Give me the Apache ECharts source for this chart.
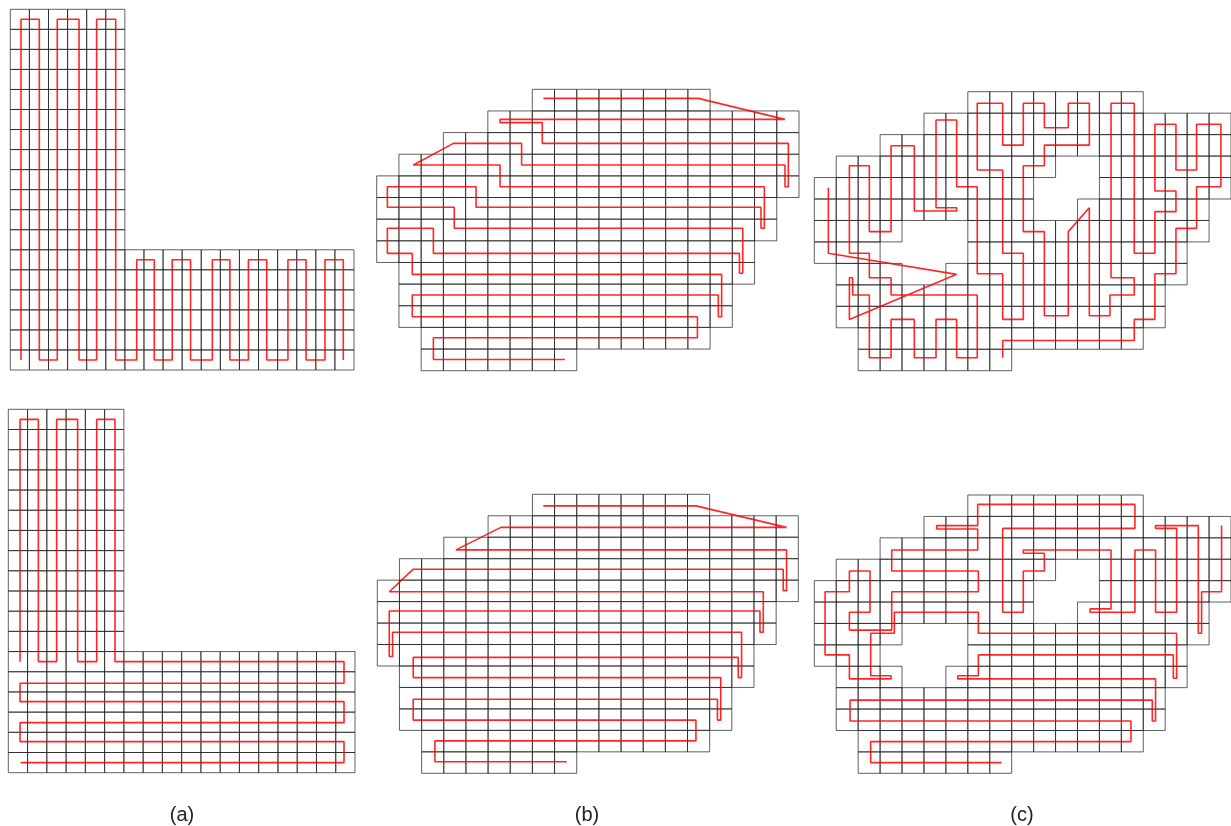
<!DOCTYPE html>
<html>
<head>
<meta charset="utf-8">
<script src="https://cdn.jsdelivr.net/npm/echarts@6/dist/echarts.min.js"></script>
<style>
  html, body { margin: 0; padding: 0; background: #fff; }
  #chart { width: 1231px; height: 826px; }
</style>
</head>
<body>
<div id="chart"></div>
<script>
// occupied cells per row: [firstCol, lastCol]
const lShapeRows = [
  [0, 5], [0, 5], [0, 5], [0, 5], [0, 5], [0, 5], [0, 5], [0, 5], [0, 5],
  [0, 5], [0, 5], [0, 5], [0, 17], [0, 17], [0, 17], [0, 17], [0, 17], [0, 17],
];
const blobRows = [
  [7, 14], [5, 18], [3, 18], [1, 18], [0, 18], [0, 17], [0, 17],
  [0, 16], [1, 16], [1, 15], [1, 15], [2, 14], [2, 8],
];
// obstacle cells in (c): [col, row]
const obstacleCells = [
  [4, 6], [5, 6], [6, 6], [3, 7], [4, 7], [5, 7], [6, 7], [4, 8], [5, 8],
  [11, 3], [12, 3], [10, 4], [11, 4], [12, 4], [10, 5], [11, 5],
];

// coverage paths, in cell units [col, row]
const pathA1 = [
  [0.56, 17.5], [0.56, 0.5], [1.52, 0.5], [1.52, 17.5], [2.46, 17.5], [2.46, 0.5],
  [3.6, 0.5], [3.6, 17.5], [4.52, 17.5], [4.52, 0.5], [5.52, 0.5], [5.52, 17.5],
  [6.62, 17.5], [6.62, 12.5], [7.54, 12.5], [7.54, 17.5], [8.48, 17.5], [8.48, 12.5],
  [9.44, 12.5], [9.44, 17.5], [10.58, 17.5], [10.58, 12.5], [11.5, 12.5], [11.5, 17.5],
  [12.47, 17.5], [12.47, 12.5], [13.43, 12.5], [13.43, 17.5], [14.54, 17.5], [14.54, 12.5],
  [15.49, 12.5], [15.49, 17.5], [16.48, 17.5], [16.48, 12.5], [17.44, 12.5], [17.44, 17.5],
];
const pathA2 = [
  [0.61, 12.5], [0.61, 0.5], [1.56, 0.5], [1.56, 12.5], [2.51, 12.5], [2.51, 0.5],
  [3.6, 0.5], [3.6, 12.5], [4.59, 12.5], [4.59, 0.5], [5.54, 0.5], [5.54, 12.5],
  [17.43, 12.5], [17.43, 13.57], [0.61, 13.57], [0.61, 14.48], [17.43, 14.48],
  [17.43, 15.52], [0.61, 15.52], [0.61, 16.46], [17.43, 16.46], [17.43, 17.5], [0.64, 17.5],
];
const pathB1 = [
  [7.5, 0.42], [14.47, 0.42], [18.37, 1.39], [5.55, 1.39], [5.55, 1.54], [7.45, 1.54],
  [7.45, 2.5], [18.52, 2.5], [18.52, 4.5], [18.37, 4.5], [18.37, 3.5], [6.52, 3.5],
  [6.52, 2.5], [3.45, 2.5], [1.65, 3.5], [5.55, 3.5], [5.55, 4.5], [17.44, 4.5],
  [17.44, 6.42], [17.29, 6.42], [17.29, 5.45], [4.47, 5.45], [4.47, 4.5], [0.48, 4.5],
  [0.48, 5.45], [3.49, 5.45], [3.49, 6.42], [16.47, 6.42], [16.47, 8.5], [16.32, 8.5],
  [16.32, 7.58], [2.55, 7.58], [2.55, 6.42], [0.48, 6.42], [0.48, 7.58], [1.6, 7.58],
  [1.6, 8.55], [15.52, 8.55], [15.52, 10.51], [15.37, 10.51], [15.37, 9.5], [1.6, 9.5],
  [1.6, 10.51], [14.43, 10.51], [14.43, 11.48], [2.55, 11.48], [2.55, 12.48], [8.47, 12.48],
];
const pathB2 = [
  [7.49, 0.54], [14.38, 0.54], [18.47, 1.54], [5.58, 1.54], [3.55, 2.59], [18.47, 2.59],
  [18.47, 4.49], [18.32, 4.49], [18.32, 3.49], [1.62, 3.49], [0.54, 4.54], [17.42, 4.54],
  [17.42, 6.43], [17.27, 6.43], [17.27, 5.44], [0.54, 5.44], [0.54, 7.56], [0.69, 7.56],
  [0.69, 6.43], [16.44, 6.43], [16.44, 8.54], [16.29, 8.54], [16.29, 7.6], [1.62, 7.6],
  [1.62, 8.54], [15.5, 8.54], [15.5, 10.52], [15.35, 10.52], [15.35, 9.55], [1.62, 9.55],
  [1.62, 10.52], [14.38, 10.52], [14.38, 11.49], [2.6, 11.49], [2.6, 12.46], [8.55, 12.46],
];
const pathC1 = [
  [0.64, 4.47], [0.64, 7.53], [6.49, 8.51], [1.6, 10.61], [1.6, 8.67], [1.75, 8.67],
  [1.75, 9.47], [2.51, 9.47], [2.51, 12.4], [3.5, 12.4], [3.5, 10.61], [4.56, 10.61],
  [4.56, 12.4], [5.55, 12.4], [5.55, 10.61], [6.49, 10.61], [6.49, 12.4], [7.43, 12.4],
  [7.43, 9.47], [3.5, 9.47], [3.5, 8.67], [2.51, 8.67], [2.51, 7.53], [1.6, 7.53],
  [1.6, 3.45], [2.51, 3.45], [2.51, 6.52], [3.5, 6.52], [3.5, 2.52], [4.56, 2.52],
  [4.56, 5.56], [6.49, 5.56], [6.49, 5.41], [5.55, 5.41], [5.55, 1.32], [6.49, 1.32],
  [6.49, 4.43], [7.43, 4.43], [7.43, 8.48], [8.59, 8.48], [8.59, 10.61], [9.53, 10.61],
  [9.53, 7.53], [8.59, 7.53], [8.59, 3.65], [7.43, 3.65], [7.43, 0.54], [8.59, 0.54],
  [8.59, 2.49], [9.53, 2.49], [9.53, 0.54], [10.49, 0.54], [10.49, 1.68], [11.58, 1.68],
  [11.58, 0.54], [12.54, 0.54], [12.54, 2.49], [10.49, 2.49], [10.49, 3.45], [9.53, 3.45],
  [9.53, 6.52], [10.49, 6.52], [10.49, 10.44], [11.58, 10.44], [11.58, 6.52], [12.54, 5.41],
  [12.54, 10.44], [13.48, 10.44], [13.48, 9.47], [14.59, 9.47], [14.59, 8.67], [13.53, 8.67],
  [13.53, 0.54], [14.59, 0.54], [14.59, 7.53], [15.53, 7.53], [15.53, 5.59], [16.49, 5.59],
  [16.49, 4.63], [15.53, 4.63], [15.53, 1.52], [16.49, 1.52], [16.49, 3.65], [17.43, 3.65],
  [17.43, 1.52], [18.54, 1.52], [18.54, 4.43], [17.43, 4.43], [17.43, 6.37], [16.49, 6.37],
  [16.49, 8.48], [15.53, 8.48], [15.53, 10.61], [14.59, 10.61], [14.59, 11.59], [8.59, 11.59],
  [8.59, 12.4],
];
const pathC2 = [
  [18.57, 1.43], [18.57, 4.52], [17.66, 4.52], [17.66, 6.46], [17.51, 6.46], [17.51, 1.43],
  [15.56, 1.43], [15.56, 1.56], [16.52, 1.56], [16.52, 5.48], [15.56, 5.48], [15.56, 2.57],
  [14.62, 2.57], [14.62, 5.48], [12.57, 5.48], [12.57, 5.32], [13.53, 5.32], [13.53, 2.57],
  [9.53, 2.57], [9.53, 2.72], [10.49, 2.72], [10.49, 3.55], [9.53, 3.55], [9.53, 5.48],
  [8.59, 5.48], [8.59, 1.56], [14.62, 1.56], [14.62, 0.44], [7.45, 0.44], [7.45, 1.43],
  [5.58, 1.43], [5.58, 1.59], [7.45, 1.59], [7.45, 2.57], [3.53, 2.57], [3.53, 3.55],
  [7.48, 3.55], [7.48, 4.52], [3.53, 4.52], [3.53, 6.31], [1.6, 6.31], [1.6, 5.48],
  [2.54, 5.48], [2.54, 3.55], [1.6, 3.55], [1.6, 4.52], [0.49, 4.52], [0.49, 7.47],
  [1.6, 7.47], [1.6, 8.59], [3.5, 8.59], [3.5, 8.44], [2.57, 8.44], [2.57, 6.46],
  [3.65, 6.46], [3.65, 5.48], [7.48, 5.48], [7.48, 6.46], [16.52, 6.46], [16.52, 8.56],
  [16.37, 8.56], [16.37, 7.47], [7.48, 7.47], [7.48, 8.44], [6.54, 8.44], [6.54, 8.59],
  [15.56, 8.59], [15.56, 10.56], [15.41, 10.56], [15.41, 9.58], [1.63, 9.58], [1.63, 10.56],
  [14.44, 10.56], [14.44, 11.52], [2.57, 11.52], [2.57, 12.5], [8.54, 12.5],
];
const panelLabels = ["(a)", "(b)", "(c)"];

// panel boxes in pixels
const panels = [
  { box: [10.3, 9.3, 343.7, 360.7], cols: 18, rows: lShapeRows, holes: [], path: pathA1 },
  { box: [8.3, 409.3, 346.7, 363.4], cols: 18, rows: lShapeRows, holes: [], path: pathA2 },
  { box: [376.7, 89.3, 422.3, 281.4], cols: 19, rows: blobRows, holes: [], path: pathB1 },
  { box: [377.3, 494.3, 421, 279], cols: 19, rows: blobRows, holes: [], path: pathB2 },
  { box: [814.3, 91.7, 416.7, 279], cols: 19, rows: blobRows, holes: obstacleCells, path: pathC1 },
  { box: [814.3, 495, 416.7, 278.3], cols: 19, rows: blobRows, holes: obstacleCells, path: pathC2 },
];
const labelX = [182, 587, 1022];

const chart = echarts.init(document.getElementById("chart"));

const cellsOf = (rows, holes) => {
  const out = [];
  rows.forEach(([c0, c1], r) => {
    for (let c = c0; c <= c1; c++) {
      if (!holes.some((h) => h[0] === c && h[1] === r)) out.push([c, r]);
    }
  });
  return out;
};

const renderCell = (params, api) => {
  const c = api.value(0);
  const r = api.value(1);
  const p0 = api.coord([c, r]);
  const p1 = api.coord([c + 1, r + 1]);
  return {
    type: "rect",
    shape: {
      x: Math.min(p0[0], p1[0]),
      y: Math.min(p0[1], p1[1]),
      width: Math.abs(p1[0] - p0[0]),
      height: Math.abs(p1[1] - p0[1]),
    },
    style: { fill: "none", stroke: "rgba(30,30,30,0.7)", lineWidth: 1 },
  };
};

const option = {
  animation: false,
  grid: panels.map((p) => ({
    left: p.box[0],
    top: p.box[1],
    width: p.box[2],
    height: p.box[3],
    containLabel: false,
  })),
  xAxis: panels.map((p, i) => ({
    type: "value", gridIndex: i, min: 0, max: p.cols, show: false,
  })),
  yAxis: panels.map((p, i) => ({
    type: "value", gridIndex: i, min: 0, max: p.rows.length, inverse: true, show: false,
  })),
  series: [
    ...panels.map((p, i) => ({
      type: "custom",
      xAxisIndex: i,
      yAxisIndex: i,
      silent: true,
      clip: false,
      z: 1,
      renderItem: renderCell,
      encode: { x: 0, y: 1 },
      data: cellsOf(p.rows, p.holes),
    })),
    ...panels.map((p, i) => ({
      type: "line",
      xAxisIndex: i,
      yAxisIndex: i,
      silent: true,
      z: 2,
      symbol: "none",
      lineStyle: { color: "rgba(255,0,0,0.85)", width: 1.6 },
      data: p.path,
    })),
  ],
  graphic: panelLabels.map((t, i) => ({
    type: "text",
    x: labelX[i],
    y: 815,
    style: {
      text: t,
      fill: "#222",
      font: "20px 'Liberation Sans', Arial, sans-serif",
      align: "center",
      verticalAlign: "middle",
    },
  })),
};

chart.setOption(option);
</script>
</body>
</html>
